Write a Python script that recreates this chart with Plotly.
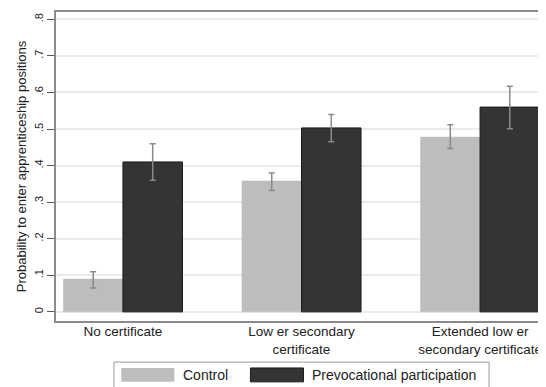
import plotly.graph_objs as go

categories = ["No certificate", "Low er secondary<br>certificate", "Extended low er<br>secondary certificate"]

control = [0.09, 0.358, 0.478]
control_hi = [0.11, 0.38, 0.512]
control_lo = [0.065, 0.332, 0.447]

prevoc = [0.41, 0.503, 0.56]
prevoc_hi = [0.46, 0.54, 0.617]
prevoc_lo = [0.36, 0.465, 0.501]

ytick_vals = [0, 0.1, 0.2, 0.3, 0.4, 0.5, 0.6, 0.7, 0.8]
ytick_text = ["0", ".1", ".2", ".3", ".4", ".5", ".6", ".7", ".8"]

light = "#bdbdbd"
dark = "#343434"
err_col = "#8a8a8a"
font = "Liberation Sans, Arial, sans-serif"

trace_control = go.Bar(
    x=categories, y=control, name="Control",
    marker=dict(color=light, line=dict(color=light, width=0.5)),
    error_y=dict(type="data", symmetric=False,
                 array=[h - v for h, v in zip(control_hi, control)],
                 arrayminus=[v - l for v, l in zip(control, control_lo)],
                 color=err_col, thickness=1.5, width=3),
)
trace_prevoc = go.Bar(
    x=categories, y=prevoc, name="Prevocational participation",
    marker=dict(color=dark, line=dict(color="#1a1a1a", width=1)),
    error_y=dict(type="data", symmetric=False,
                 array=[h - v for h, v in zip(prevoc_hi, prevoc)],
                 arrayminus=[v - l for v, l in zip(prevoc, prevoc_lo)],
                 color=err_col, thickness=1.5, width=3),
)

# legend drawn by hand so the swatches are wide like the original
legend_shapes = [
    dict(type="rect", xref="paper", yref="paper", x0=0.118, x1=0.882, y0=-0.235, y1=-0.133,
         line=dict(color="#9a9a9a", width=1), fillcolor="white"),
    dict(type="rect", xref="paper", yref="paper", x0=0.133, x1=0.241, y0=-0.197, y1=-0.152,
         line=dict(width=0), fillcolor=light),
    dict(type="rect", xref="paper", yref="paper", x0=0.396, x1=0.504, y0=-0.197, y1=-0.152,
         line=dict(color="#1a1a1a", width=1), fillcolor=dark),
]
legend_notes = [
    dict(text="Control", xref="paper", yref="paper", x=0.255, y=-0.175, xanchor="left",
         yanchor="middle", showarrow=False, font=dict(size=14, color="#222")),
    dict(text="Prevocational participation", xref="paper", yref="paper", x=0.518, y=-0.175,
         xanchor="left", yanchor="middle", showarrow=False, font=dict(size=14, color="#222")),
]

# the page body adds 8px on the left and top, so margins are trimmed by that
layout = go.Layout(
    width=546, height=387,
    margin=dict(l=48, r=7, t=4, b=74),
    paper_bgcolor="white", plot_bgcolor="white",
    font=dict(family=font, size=13, color="#222"),
    barmode="group", bargap=1/3, bargroupgap=0,
    showlegend=False,
    xaxis=dict(range=[-0.375, 2.375], showline=True, mirror=True, linecolor="#8a8a8a",
               linewidth=2, showgrid=False, ticks="", tickfont=dict(size=13.5),
               ticklabelstandoff=-3, automargin=False),
    yaxis=dict(range=[-0.025, 0.82], tickvals=ytick_vals, ticktext=ytick_text,
               tickangle=-90, ticks="outside", ticklen=7, tickcolor="#555",
               showline=True, linecolor="#8a8a8a", linewidth=2,
               showgrid=True, gridcolor="#ebebeb", gridwidth=2, zeroline=False,
               automargin=False,
               title=dict(text="Probability to enter apprenticeship positions",
                          font=dict(size=13), standoff=3),
               tickfont=dict(size=11)),
    shapes=legend_shapes,
    annotations=legend_notes,
)

fig = go.Figure(data=[trace_control, trace_prevoc], layout=layout)
fig.write_html("out.html")
